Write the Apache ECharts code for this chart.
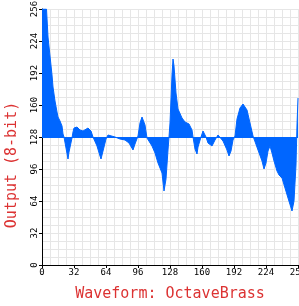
<!DOCTYPE html>
<html>
<head>
<meta charset="utf-8">
<script src="https://cdn.jsdelivr.net/npm/echarts@6/dist/echarts.min.js"></script>
<style>
    html, body { margin: 0; padding: 0; background: #fff; }
    #ec { width: 299px; height: 306px; }
</style>
</head>
<body>
<div id="ec"></div>
<script>
// sample positions (x) and 8-bit output
const sampleX = [0, 4.5, 6, 8, 10, 11, 13, 15, 16, 18, 20, 21, 22, 24, 26, 27, 30, 31, 32, 35, 38, 41, 46, 49, 51, 55, 58, 59, 61, 64, 66, 68, 73, 78, 83, 87, 91, 93, 96, 98, 100, 103, 105, 110, 113, 116, 120, 122, 124, 126, 127, 128, 130, 131, 132, 134, 136, 140, 143, 147, 150, 151, 153, 155, 156, 159, 161, 164, 166, 170, 173, 176, 178, 181, 185, 187, 189, 191, 193, 195, 198, 201, 205, 208, 211, 213, 216, 220, 222, 224, 226, 228, 230, 232, 235, 237, 240, 243, 246, 250, 252, 254, 255, 256]
const sampleY = [256, 256, 228, 209, 190, 178, 164, 153, 148, 144, 139, 131, 128, 117, 106, 113, 127, 133, 137, 138, 135, 134, 137, 134, 128, 119, 109, 106, 114, 126, 130, 131, 128, 126, 125, 122, 115, 121, 129, 142, 148, 140, 127, 119, 112, 102, 92, 74, 86, 115, 128, 142, 190, 206, 199, 172, 156, 147, 143, 141, 135, 128, 116, 111, 118, 128, 134, 128, 122, 119, 125, 130, 131, 124, 115, 109, 114, 125, 129, 146, 157, 161, 155, 142, 129, 127, 115, 104, 96, 102, 114, 119, 112, 104, 94, 90, 87, 77, 67, 54, 64, 100, 140, 167]
const baseline = 128
const xTitle = 'Waveform: OctaveBrass'
const yTitle = 'Output (8-bit)'

var myChart = echarts.init(document.getElementById('ec'));
var gridColor = '#e6e6e6';
var nameColor = '#dc3232';

var option = {
    animation: false,
    grid: {
        left: 42,
        top: 9,
        width: 256,
        height: 256,
        outerBoundsMode: 'none',
        containLabel: false
    },
    xAxis: {
        type: 'value',
        min: 0,
        max: 256,
        interval: 32,
        name: xTitle,
        nameLocation: 'middle',
        nameGap: 22,
        nameTextStyle: { color: nameColor, fontFamily: 'DejaVu Sans Mono', fontSize: 15 },
        axisLine: { lineStyle: { color: '#000', width: 1 } },
        axisTick: { show: true, length: 3, lineStyle: { color: '#000' } },
        axisLabel: { color: '#000', fontFamily: 'DejaVu Sans Mono', fontSize: 9, margin: 3, showMaxLabel: true },
        splitLine: { show: true, lineStyle: { color: gridColor, width: 1 } },
        minorTick: { show: false, splitNumber: 4 },
        minorSplitLine: { show: true, lineStyle: { color: gridColor, width: 1 } }
    },
    yAxis: {
        type: 'value',
        min: 0,
        max: 256,
        interval: 32,
        name: yTitle,
        nameLocation: 'middle',
        nameRotate: 90,
        nameGap: 22,
        nameTextStyle: { color: nameColor, fontFamily: 'DejaVu Sans Mono', fontSize: 15, padding: [0, 56, 0, 0] },
        axisLine: { show: true, lineStyle: { color: '#000', width: 1 } },
        axisTick: { show: true, length: 3, lineStyle: { color: '#000' } },
        axisLabel: { color: '#000', fontFamily: 'DejaVu Sans Mono', fontSize: 9, margin: 3, rotate: 90, showMaxLabel: true },
        splitLine: { show: true, lineStyle: { color: gridColor, width: 1 } },
        minorTick: { show: false, splitNumber: 4 },
        minorSplitLine: { show: true, lineStyle: { color: gridColor, width: 1 } }
    },
    series: [
        {
            type: 'line',
            data: sampleX.map(function (x, i) { return [x, sampleY[i]] }),
            symbol: 'none',
            clip: true,
            lineStyle: { color: '#0066ff', width: 1 },
            areaStyle: { color: '#0066ff', opacity: 1, origin: baseline },
            markLine: {
                silent: true,
                symbol: 'none',
                label: { show: false },
                lineStyle: { color: '#0066ff', width: 1, type: 'solid' },
                data: [{ yAxis: baseline }]
            }
        }
    ]
};

option && myChart.setOption(option);
</script>
</body>
</html>
